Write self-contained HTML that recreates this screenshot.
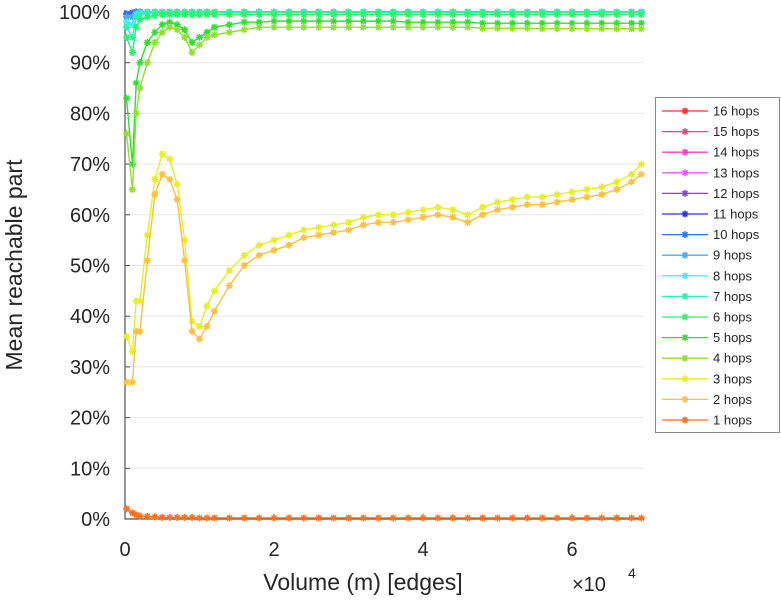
<!DOCTYPE html>
<html><head><meta charset="utf-8"><style>
html,body{margin:0;padding:0;background:#fff;}
svg{display:block;font-family:"Liberation Sans",sans-serif;}
</style></head><body>
<svg id="chart" width="781" height="600"></svg>
<script>
const xs=[0.02,0.1,0.15,0.2,0.3,0.4,0.5,0.6,0.7,0.8,0.9,1.0,1.1,1.2,1.4,1.6,1.8,2.0,2.2,2.4,2.6,2.8,3.0,3.2,3.4,3.6,3.8,4.0,4.2,4.4,4.6,4.8,5.0,5.2,5.4,5.6,5.8,6.0,6.2,6.4,6.6,6.8,6.93];
const hop1=[2,1.2,0.8,0.6,0.5,0.4,0.3,0.3,0.3,0.3,0.3,0.2,0.2,0.2,0.2,0.2,0.2,0.2,0.2,0.2,0.2,0.2,0.2,0.2,0.2,0.2,0.2,0.2,0.2,0.2,0.2,0.2,0.2,0.2,0.2,0.2,0.2,0.2,0.2,0.2,0.2,0.2,0.2];
const hop2=[27,27,37,37,51,64,68,67,63,51,37,35.5,38,41,46,50,52,53,54,55.5,56,56.5,57,58,58.5,58.5,59,59.5,60,59.5,58.5,60,61,61.5,62,62,62.5,63,63.5,64,65,66.5,68];
const hop3=[36,33,43,43,56,67,72,71,66,55,39,38,42,45,49,52,54,55,56,57,57.5,58,58.5,59.5,60,60,60.5,61,61.5,61,60,61.5,62.5,63,63.5,63.5,64,64.5,65,65.5,66.5,68,70];
const hop4=[76,65,80,85,90,94,96,97,96.5,95,92,93.5,95,95.5,96,96.5,97,97,97,97,97,97,97,97,97,97,97,97,97,97,97,96.8,96.8,96.8,96.8,96.7,96.7,96.7,96.7,96.7,96.7,96.7,96.7];
const hop5=[83,70,86,90,94,96,97.5,98,97.5,96.5,94,95,96,97,97.5,98,98,98.2,98.2,98.2,98.2,98.2,98.2,98.2,98.2,98.2,98,98,98,98,98,97.8,97.8,97.8,97.8,97.8,97.8,97.8,97.8,97.8,97.8,97.8,97.8];
const hop6=[95,92,97,98.5,99,99.3,99.5,99.5,99.5,99.5,99.4,99.4,99.5,99.5,99.5,99.5,99.5,99.5,99.5,99.5,99.5,99.5,99.5,99.5,99.5,99.5,99.5,99.5,99.5,99.5,99.5,99.5,99.5,99.5,99.5,99.5,99.5,99.5,99.5,99.5,99.5,99.5,99.5];
const hop7=[97,95,99,99.5,99.8,99.9,99.9,99.9,99.9,99.9,99.9,99.9,99.9,99.9,99.9,99.9,99.9,99.9,99.9,99.9,99.9,99.9,99.9,99.9,99.9,99.9,99.9,99.9,99.9,99.9,99.9,99.9,99.9,99.9,99.9,99.9,99.9,99.9,99.9,99.9,99.9,99.9,99.9];
const hop8=[98,97.5,99.5,99.8,100,100,100,100,100,100,100,100,100,100,100,100,100,100,100,100,100,100,100,100,100,100,100,100,100,100,100,100,100,100,100,100,100,100,100,100,100,100,100];
const hop9=[99,99,99.8,100,100,100,100,100,100,100,100,100,100,100,100,100,100,100,100,100,100,100,100,100,100,100,100,100,100,100,100,100,100,100,100,100,100,100,100,100,100,100,100];
const hopHigh=[99.6,99.8,100,100,100,100,100,100,100,100,100,100,100,100,100,100,100,100,100,100,100,100,100,100,100,100,100,100,100,100,100,100,100,100,100,100,100,100,100,100,100,100,100];
const seriesLabels=["1 hops","2 hops","3 hops","4 hops","5 hops","6 hops","7 hops","8 hops","9 hops","10 hops","11 hops","12 hops","13 hops","14 hops","15 hops","16 hops"];
const seriesValues=[hop1,hop2,hop3,hop4,hop5,hop6,hop7,hop8,hop9,hopHigh,hopHigh,hopHigh,hopHigh,hopHigh,hopHigh,hopHigh];
const colors=["#ff7020","#ffc040","#e4f020","#90e030","#30e030","#30f070","#30f0b0","#40f0ff","#40b0ff","#3070ff","#3030ff","#8040ff","#e060ff","#ff40c0","#ff4080","#ff3030"];
const yTicks=[0,10,20,30,40,50,60,70,80,90,100];
const xTicks=[0,2,4,6];

const NS="http://www.w3.org/2000/svg";
const svg=document.getElementById('chart');
const X0=125,XS=74.5,Y0=519,YS=5.07;
const sx=v=>X0+v*XS, sy=v=>Y0-v*YS;
function mk(t,a,p){const e=document.createElementNS(NS,t);for(const k in a)e.setAttribute(k,a[k]);(p||svg).appendChild(e);return e;}

yTicks.forEach(t=>{
  if(t>0){const g=mk('line',{x1:X0,x2:644,y1:sy(t),y2:sy(t),stroke:'#e6e6e6','stroke-width':1});
  
  }
  const tk=mk('line',{x1:X0,x2:X0+5,y1:sy(t),y2:sy(t),stroke:'#555'});
  
  
  const l=mk('text',{x:110,y:sy(t)+7,'text-anchor':'end','font-size':20,fill:'#262626'});
  l.textContent=t+'%';
  
  
});
xTicks.forEach(t=>{
  const tk=mk('line',{x1:sx(t),x2:sx(t),y1:Y0,y2:Y0-5,stroke:'#555'});
  
  
  const l=mk('text',{x:sx(t),y:556,'text-anchor':'middle','font-size':20,fill:'#262626'});
  l.textContent=t;
  
  
});
const ax=mk('path',{d:`M${X0} 10 V${Y0} H644`,fill:'none',stroke:'#555','stroke-width':1.2});



function star(g,x,y,c){
  mk('path',{d:`M${x-3.5} ${y}H${x+3.5}M${x} ${y-3.5}V${y+3.5}M${x-2.5} ${y-2.5}L${x+2.5} ${y+2.5}M${x-2.5} ${y+2.5}L${x+2.5} ${y-2.5}`,stroke:c,'stroke-width':1.5,fill:'none'},g);
}
for(let i=seriesValues.length-1;i>=0;i--){
  const vals=seriesValues[i];
  const g=mk('g',{});
  
  
  const pts=vals.map((v,j)=>sx(xs[j])+','+sy(v)).join(' ');
  mk('polyline',{points:pts,fill:'none',stroke:colors[i],'stroke-width':1.4},g);
  vals.forEach((v,j)=>star(g,sx(xs[j]),sy(v),colors[i]));
}

const lg=mk('g',{});


mk('rect',{x:655.5,y:97.5,width:124,height:335,fill:'#fff',stroke:'#888'},lg);
for(let k=0;k<16;k++){
  const i=15-k, y=111+k*20.6;
  const e=mk('g',{},lg);
  
  
  mk('line',{x1:662,x2:708,y1:y,y2:y,stroke:colors[i],'stroke-width':1.3},e);
  star(e,685,y,colors[i]);
  const t=mk('text',{x:713,y:y+4.5,'font-size':13,fill:'#262626'},e);
  t.textContent=seriesLabels[i];
}
const yt=mk('text',{x:22,y:265,'text-anchor':'middle','font-size':23,fill:'#262626',transform:'rotate(-90 22 265)'});
yt.textContent='Mean reachable part';


const xt=mk('text',{x:363,y:590,'text-anchor':'middle','font-size':23,fill:'#262626'});
xt.textContent='Volume (m) [edges]';


const ex=mk('text',{x:572,y:591,'font-size':20,fill:'#262626'});
ex.textContent='×10';


const ex2=mk('text',{x:628,y:578,'font-size':14,fill:'#262626'});
ex2.textContent='4';


</script>
</body></html>
